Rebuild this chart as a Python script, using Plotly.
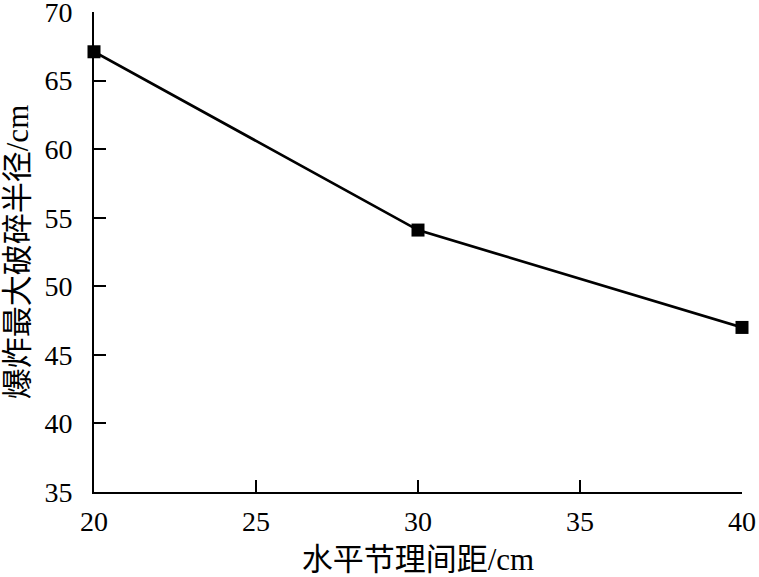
import plotly.graph_objects as go

# horizontal joint spacing (cm) vs. max blasting fragmentation radius (cm)
spacing = [20, 30, 40]
radius = [67.1, 54.1, 47.0]

x_ticks = [20, 25, 30, 35, 40]
y_ticks = [35, 40, 45, 50, 55, 60, 65, 70]

font_family = "Liberation Serif, Times New Roman, Noto Sans CJK SC, serif"

fig = go.Figure()
fig.add_trace(go.Scatter(
    x=spacing, y=radius,
    mode='lines+markers',
    line=dict(color='black', width=2.7),
    marker=dict(symbol='square', size=13, color='black'),
    cliponaxis=False,
    showlegend=False))

fig.update_layout(
    width=759, height=577,
    margin=dict(l=94, r=17, t=12, b=85),
    paper_bgcolor='white', plot_bgcolor='white',
    font=dict(family=font_family, size=28, color='black'))

fig.update_xaxes(
    range=[20, 40], tickvals=x_ticks,
    ticks='inside', ticklen=12, tickwidth=2, tickcolor='black',
    showline=True, linecolor='black', linewidth=2,
    showgrid=False, zeroline=False, automargin=False,
    ticklabelstandoff=3, ticklabeloverflow='allow',
    title=dict(text='水平节理间距/cm', font=dict(size=31), standoff=16))

fig.update_yaxes(
    range=[35, 70], tickvals=y_ticks,
    ticks='inside', ticklen=12, tickwidth=2, tickcolor='black',
    showline=True, linecolor='black', linewidth=2,
    showgrid=False, zeroline=False, automargin=False,
    ticklabelstandoff=14, ticklabeloverflow='allow',
    title=dict(text='爆炸最大破碎半径/cm', font=dict(size=31), standoff=8))

# drop the default 8px body margin so the figure sits flush in the window
fig.write_html("out.html", config={'displayModeBar': False},
               post_script="document.body.style.margin = '0';")
